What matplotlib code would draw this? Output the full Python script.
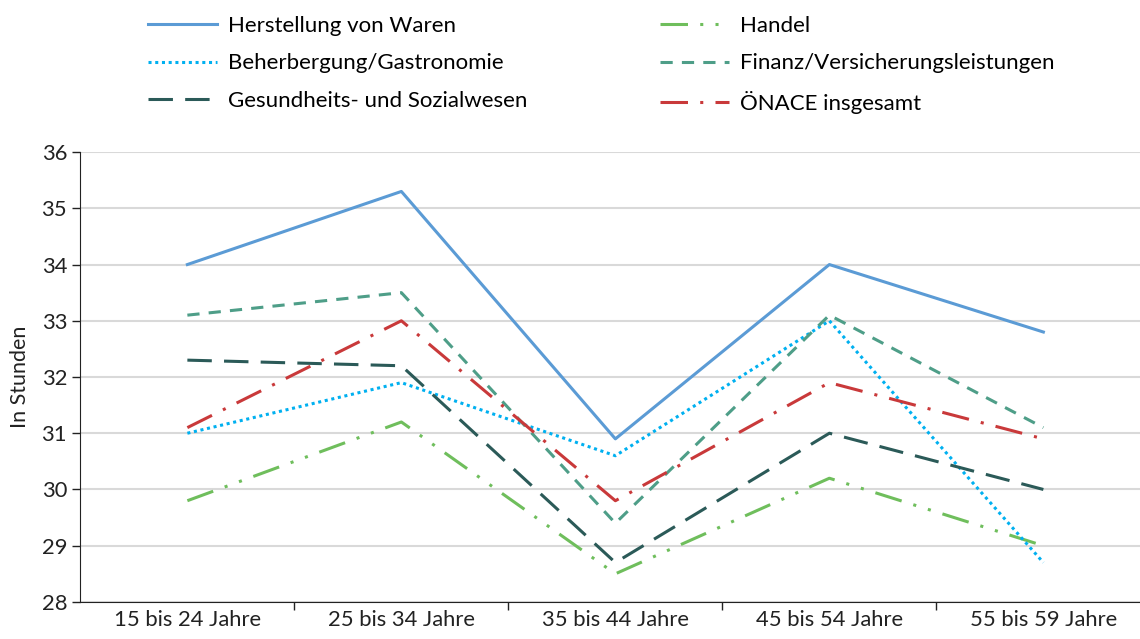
import matplotlib
matplotlib.use("Agg")
import numpy as np
import matplotlib.pyplot as plt
from matplotlib.ticker import FixedLocator

# data (hours per week)
categories = ["15 bis 24 Jahre", "25 bis 34 Jahre", "35 bis 44 Jahre",
              "45 bis 54 Jahre", "55 bis 59 Jahre"]
herstellung = [34.0, 35.3, 30.9, 34.0, 32.8]
handel = [29.8, 31.2, 28.5, 30.2, 29.0]
beherbergung = [31.0, 31.9, 30.6, 33.0, 28.7]
finanz = [33.1, 33.5, 29.4, 33.1, 31.1]
gesundheit = [32.3, 32.2, 28.7, 31.0, 30.0]
oenace = [31.1, 33.0, 29.8, 31.9, 30.9]

plt.rcParams['font.family'] = ['Lato', 'DejaVu Sans']

fig = plt.figure(figsize=(11.4, 6.39), dpi=100)
# axes runs slightly past the right edge like the original
ax = fig.add_axes([0.0705, 0.058, 0.9386, 0.704])

x = np.arange(len(categories))
lw = 2.2
lines = [
    (herstellung, "Herstellung von Waren", "#5B9BD5", "-"),
    (handel, "Handel", "#6FBE5C", (0, (9, 4, 1, 4, 1, 4))),
    (beherbergung, "Beherbergung/Gastronomie", "#00B0F0", (0, (1, 1.2))),
    (finanz, "Finanz/Versicherungsleistungen", "#4E9E88", (0, (4, 3))),
    (gesundheit, "Gesundheits- und Sozialwesen", "#2B5A58", (0, (8, 4))),
    (oenace, "ÖNACE insgesamt", "#C9393A", (0, (9, 4, 1, 4))),
]
for vals, name, col, ls in lines:
    ax.plot(x, vals, color=col, linestyle=ls, linewidth=lw, label=name)

ax.set_xlim(-0.5, len(categories) - 0.5)
ax.set_ylim(28, 36)
ax.set_yticks(range(28, 37))
ax.grid(axis='y', color='#D9D9D9', linewidth=1.5)
ax.set_axisbelow(True)

ax.set_xticks(x)
ax.set_xticklabels(categories, fontsize=15.8, color='#222222')
ax.xaxis.set_minor_locator(FixedLocator(np.arange(0.5, len(categories) - 1, 1)))
ax.tick_params(axis='x', which='major', length=0, pad=6)
ax.tick_params(axis='x', which='minor', length=6, width=1, color='#222222')
ax.tick_params(axis='y', labelsize=15.8, length=6, width=1, colors='#222222')
ax.set_ylabel("In Stunden", fontsize=15.5, color='#222222', labelpad=8)

for s in ['top', 'right']:
    ax.spines[s].set_visible(False)
ax.spines['left'].set_color('#222222')
ax.spines['bottom'].set_color('#222222')

handles, labels = ax.get_legend_handles_labels()
# reorder so the legend reads left/right in pairs
order = [0, 2, 4, 1, 3, 5]
fig.legend([handles[i] for i in order], [labels[i] for i in order],
           loc='upper left', bbox_to_anchor=(0.112, 1.007), ncol=2,
           frameon=False, fontsize=16, handlelength=3.1, handletextpad=0.5,
           columnspacing=6.0, labelspacing=0.8)

fig.savefig("out.png", dpi=100)
